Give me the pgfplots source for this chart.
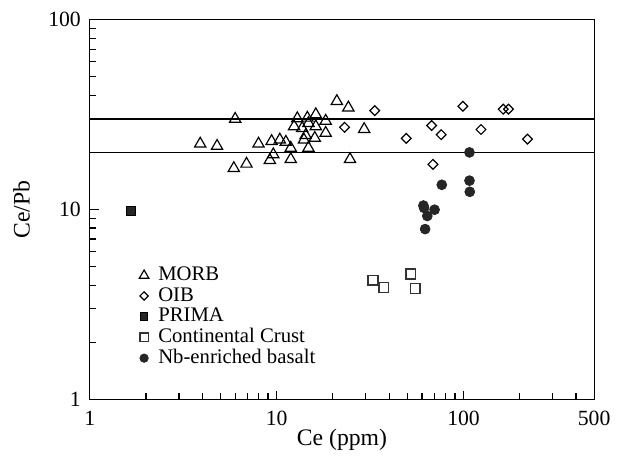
\documentclass[border=0pt]{standalone}
\usepackage{fontspec}
\setmainfont{Liberation Serif}
\usepackage{pgfplots}
\pgfplotsset{compat=1.18}

\begin{document}
\begin{tikzpicture}
\begin{loglogaxis}[
  name=ax,
  scale only axis,
  width=255.75pt, height=192.5pt,
  xmin=1, xmax=500, ymin=1, ymax=100,
  axis line style={line width=0.65pt},
  every tick/.style={black, line width=0.6pt},
  tick align=inside,
  xtick pos=bottom, ytick pos=left,
  major tick length=4.5pt, minor tick length=3pt,
  xtick={1,10,100}, xticklabels={\textrm{1},\textrm{10},\textrm{100}},
  extra x ticks={500}, extra x tick labels={\textrm{500}},
  minor xtick={2,3,4,5,6,7,8,9,20,30,40,50,60,70,80,90,200,300,400},
  ytick={1,10,100}, yticklabels={\textrm{1},\textrm{10},\textrm{100}},
  minor ytick={2,3,4,5,6,7,8,9,20,30,40,50,60,70,80,90},
  tick label style={font=\fontsize{11}{12}\selectfont},
  xticklabel style={yshift=-2.5pt},
  yticklabel style={xshift=-1pt},
  xlabel={Ce (ppm)}, ylabel={Ce/Pb},
  label style={font=\fontsize{12}{13}\selectfont},
  xlabel style={at={(axis description cs:0.5,-0.106)}, anchor=center},
  ylabel style={at={(axis description cs:-0.135,0.5)}, anchor=center},
  legend style={draw=none, fill=none, at={(axis description cs:0.0964,0.357)}, anchor=north west,
    font=\fontsize{10.5}{11}\selectfont, row sep=-1.1pt, inner sep=0pt,
    nodes={inner sep=1.5pt}},
  legend cell align=left,
  legend image code/.code={%
    \path (0pt,0pt) (8pt,0pt);
    \draw[#1, every mark/.append style={scale=0.85}] plot coordinates {(2.5pt,0pt)};},
]
\addplot[forget plot, black, line width=0.6pt] coordinates {(1,30) (500,30)};
\addplot[forget plot, black, line width=0.6pt] coordinates {(1,20) (500,20)};

% MORB
\addplot[only marks, mark=triangle, mark size=3.3pt, mark options={black, line width=0.6pt}] coordinates {
(3.9,22.2) (4.8,21.6) (5.9,16.5) (6.0,30.0) (6.9,17.4) (8.0,22.2) (9.2,18.2) (9.6,19.5)
(9.4,22.9) (10.4,23.3) (11.2,22.7) (11.9,21.1) (11.9,18.4) (12.4,27.4) (12.9,30.2)
(13.7,26.8) (14.6,30.4) (14.8,28.5) (14.3,24.6) (14.0,23.3) (14.8,21.1) (16.2,31.7)
(16.2,27.4) (16.0,23.8) (18.3,29.3) (18.3,25.3) (21.0,37.2) (24.2,34.4) (24.7,18.4)
(29.4,26.5)
};
\addlegendentry{MORB}

% OIB
\addplot[only marks, mark=square, mark size=1.75pt, mark options={black, rotate=45, line width=0.6pt}] coordinates {
(23.1,27.1) (33.5,33.2) (49.4,23.7) (67.5,27.7) (68.6,17.3) (75.9,24.8) (99.2,35.0)
(124,26.4) (163,33.8) (174,33.8) (220,23.5)
};
\addlegendentry{OIB}

% PRIMA
\addplot[only marks, mark=square*, mark size=2.25pt, mark options={black, fill=black!85}] coordinates {
(1.66,9.8)
};
\addlegendentry{PRIMA}

% Continental Crust
\addplot[only marks, mark=square, mark size=2.5pt, mark options={black!80, line width=0.65pt}] coordinates {
(32.8,4.25) (37.5,3.88) (52.3,4.58) (55.1,3.83)
};
\addlegendentry{Continental Crust}

% Nb-enriched basalt
\addplot[only marks, mark=*, mark size=2.5pt, mark options={black!85, fill=black!85}] coordinates {
(107.6,20.0) (76.5,13.5) (107.6,14.2) (108,12.4) (61.0,10.5) (61.5,10.2) (70.0,9.98)
(64.0,9.25) (62.3,7.89)
};
\addlegendentry{Nb-enriched basalt}
\end{loglogaxis}
\path (ax.south west) ++(-45.5pt,-27pt) rectangle ++(308.5pt,229.5pt);
\end{tikzpicture}
\end{document}
